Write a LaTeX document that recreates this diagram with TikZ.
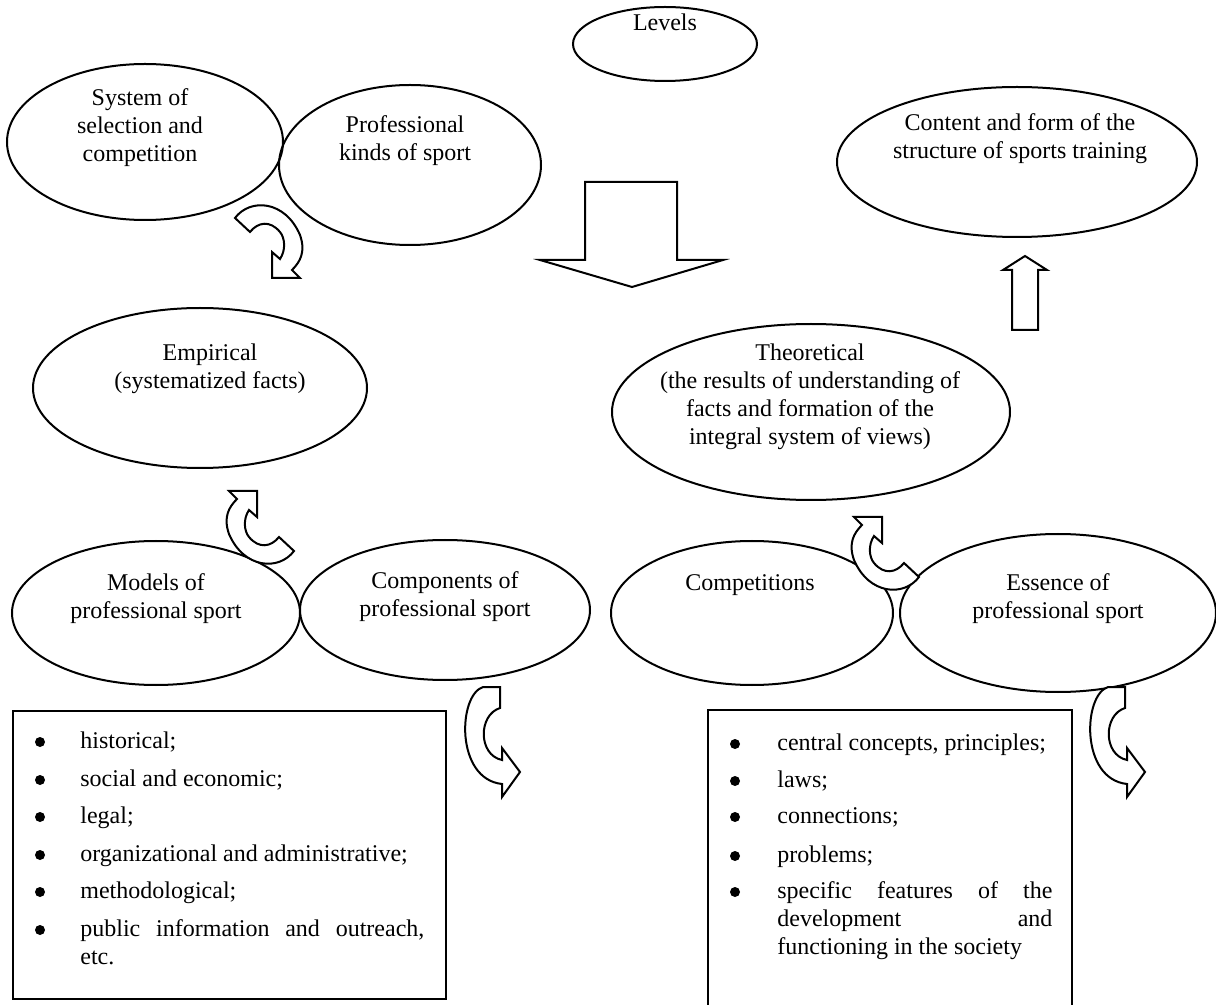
\documentclass[tikz,border=0pt]{standalone}
\usepackage{fontspec}
\setmainfont{Liberation Serif}
\usetikzlibrary{shapes.geometric}
\begin{document}
\begin{tikzpicture}[x=0.5pt,y=-0.5pt,
  every node/.style={font=\fontsize{12}{14}\selectfont},
  ell/.style={draw, ellipse, line width=1pt, inner sep=0pt},
  txt/.style={align=center, inner sep=0pt},
  blk/.style={draw, line width=1pt, fill=white, line join=miter},
  box/.style={draw, line width=1pt},
  bul/.style={circle, fill=black, inner sep=0pt, minimum size=5pt},
  item/.style={anchor=base west, inner sep=0pt, align=left},
  curlA/.pic={\draw[blk] (-37,-60) .. controls (-22,-80) and (13,-78) .. (28,-43)
      .. controls (34,-26) and (28,-16) .. (20,-8) -- (28,0) -- (0,0) -- (0,-26) -- (8,-19)
      .. controls (14,-28) and (13,-40) .. (8,-46) .. controls (-2,-58) and (-14,-56) .. (-22,-46) -- cycle;},
  curlB/.pic={\draw[blk] (-17,0) -- (0,0) -- (0,21) .. controls (-22,28) and (-22,68) .. (2,73)
      -- (2,61) -- (20,85) -- (2,110) -- (2,97) .. controls (-45,92) and (-42,8) .. (-17,0) -- cycle;}
]
\useasboundingbox (0,0) rectangle (1216,1005);

% ellipses
\node[ell, minimum width=184pt*0.5, minimum height=74pt*0.5] (lev) at (665,44) {};
\node[ell, minimum width=276pt*0.5, minimum height=156pt*0.5] (sys) at (145,142) {};
\node[ell, minimum width=262pt*0.5, minimum height=160pt*0.5] (pro) at (410,165) {};
\node[ell, minimum width=360pt*0.5, minimum height=150pt*0.5] (con) at (1017,162) {};
\node[ell, minimum width=334pt*0.5, minimum height=160pt*0.5] (emp) at (200,388) {};
\node[ell, minimum width=398pt*0.5, minimum height=176pt*0.5] (theo) at (811,412) {};
\node[ell, minimum width=288pt*0.5, minimum height=144pt*0.5] (mod) at (156,613) {};
\node[ell, minimum width=290pt*0.5, minimum height=140pt*0.5] (comp) at (445,610) {};
\node[ell, minimum width=282pt*0.5, minimum height=144pt*0.5] (cpt) at (752,613) {};
\node[ell, minimum width=316pt*0.5, minimum height=158pt*0.5] (ess) at (1058,613) {};

% texts
\node[txt] (tlev) at (665,22) {Levels};
\node[txt] (tsys) at (140,128) {System of\\selection and\\competition};
\node[txt] (tpro) at (405,141) {Professional\\kinds of sport};
\node[txt] (tcon) at (1020,139) {Content and form of the\\structure of sports training};
\node[txt] (temp) at (210,369) {Empirical\\(systematized facts)};
\node[txt] (ttheo) at (810,397) {Theoretical\\(the results of understanding of\\facts and formation of the\\integral system of views)};
\node[txt] (tmod) at (156,599) {Models of\\professional sport};
\node[txt] (tcomp) at (445,597) {Components of\\professional sport};
\node[txt] (tcpt) at (750,585) {Competitions};
\node[txt] (tess) at (1058,599) {Essence of\\professional sport};

% block arrows
\draw[blk] (585,182) -- (677,182) -- (677,260) -- (723,260) -- (632,287) -- (540,260) -- (585,260) -- cycle;
\draw[blk] (1012,330) -- (1012,270) -- (1003,270) -- (1025,256) -- (1047,270) -- (1038,270) -- (1038,330) -- cycle;

% curled arrows
\pic at (272,278) {curlA};
\pic[rotate=180] at (257,491) {curlA};
\pic[rotate=180] at (882,517) {curlA};
\pic at (500,687) {curlB};
\pic at (1125,687) {curlB};

% left box
\node[box, minimum width=216.5pt, minimum height=144pt, anchor=north west] (lbox) at (12,710) {};
\foreach \yy/\tt [count=\i] in {748/historical;, 786/social and economic;, 823/legal;, 861/organizational and administrative;, 898/methodological;}{
  \node[bul] (lb\i) at (40,\yy-6) {};
  \node[item] (li\i) at (80,\yy) {\tt};
}
\node[bul] (lb6) at (40,930) {};
\node[item] (li6) at (80,964) {\makebox[172pt][l]{public\hfill information\hfill and\hfill outreach,}\\etc.};

% right box
\draw[box] (708,1020) -- (708,710) coordinate (rtl) -- (1072,710) -- (1072,1020) -- cycle;
\foreach \yy/\tt [count=\i] in {750/{central concepts, principles;}, 787/laws;, 823/connections;, 862/problems;}{
  \node[bul] (rb\i) at (735,\yy-6) {};
  \node[item] (ri\i) at (777,\yy) {\tt};
}
\node[bul] (rb5) at (735,892) {};
\node[item] (ri5) at (777,954) {\makebox[137.5pt][l]{specific\hfill features\hfill of\hfill the}\\\makebox[137.5pt][l]{development\hfill and}\\functioning in the society};
\end{tikzpicture}
\end{document}
